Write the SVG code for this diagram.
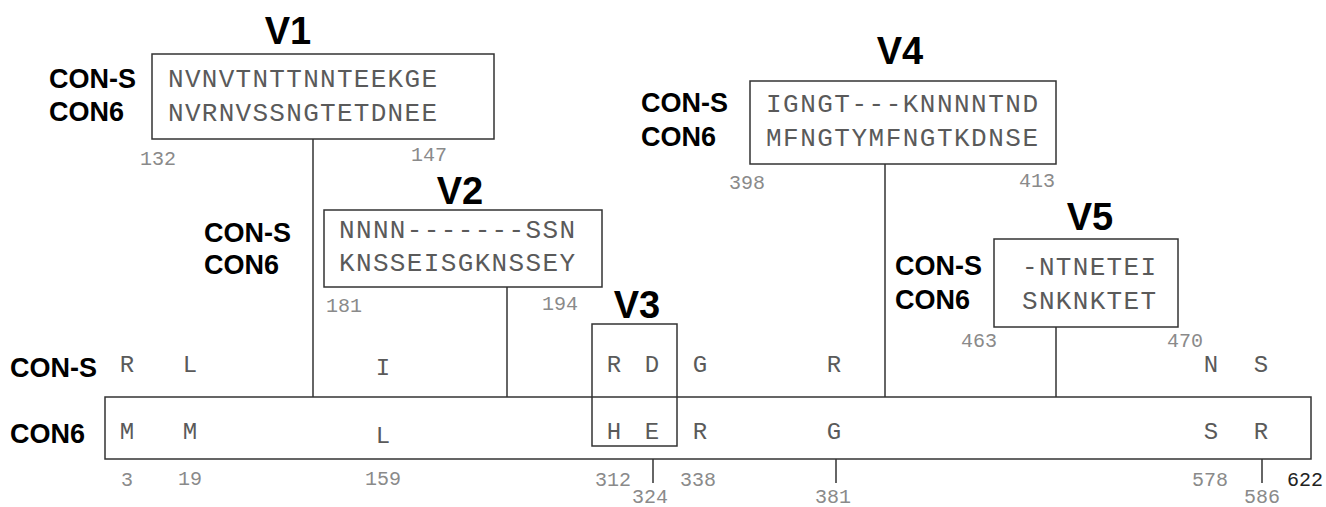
<svg xmlns="http://www.w3.org/2000/svg" width="1326" height="507" viewBox="0 0 1326 507">
<style>
.title{font-family:"Liberation Sans",Arial,sans-serif;font-weight:bold;font-size:38px;fill:#000;text-anchor:middle}
.lab{font-family:"Liberation Sans",Arial,sans-serif;font-weight:bold;font-size:27px;fill:#000}
.seq{font-family:"Liberation Mono","Courier New",monospace;font-size:26px;fill:#5a5a5a}
.res{font-family:"Liberation Mono","Courier New",monospace;font-size:24px;fill:#5a5a5a;text-anchor:middle}
.num{font-family:"Liberation Mono","Courier New",monospace;font-size:20px;fill:#8a8a8a;text-anchor:middle}
.box{fill:none;stroke:#333;stroke-width:1.5}
.ln{stroke:#333;stroke-width:1.5}
</style>
<rect width="1326" height="507" fill="#fff"/>
<g id="bar">
<rect class="box" x="105" y="397" width="1206" height="62"/>
<text class="lab" x="10" y="377">CON-S</text>
<text class="lab" x="10" y="443">CON6</text>
<text class="res" x="127" y="372">R</text>
<text class="res" x="190" y="372">L</text>
<text class="res" x="383" y="375">I</text>
<text class="res" x="700" y="372">G</text>
<text class="res" x="834" y="372">R</text>
<text class="res" x="1211" y="372">N</text>
<text class="res" x="1261" y="372">S</text>
<text class="res" x="127" y="439">M</text>
<text class="res" x="190" y="439">M</text>
<text class="res" x="383" y="443">L</text>
<text class="res" x="700" y="439">R</text>
<text class="res" x="834" y="439">G</text>
<text class="res" x="1211" y="439">S</text>
<text class="res" x="1261" y="439">R</text>
<text class="num" x="127" y="486">3</text>
<text class="num" x="190" y="485">19</text>
<text class="num" x="383" y="485">159</text>
<text class="num" x="613" y="486">312</text>
<text class="num" x="650" y="503">324</text>
<text class="num" x="698" y="486">338</text>
<text class="num" x="833" y="503">381</text>
<text class="num" x="1210" y="486">578</text>
<text class="num" x="1262" y="503">586</text>
<text class="num" x="1305" y="486" style="fill:#222">622</text>
</g>
<g id="V1">
<text class="title" x="288" y="44">V1</text>
<rect class="box" x="152" y="54" width="342" height="85"/>
<text class="lab" x="49" y="88">CON-S</text>
<text class="lab" x="49" y="121">CON6</text>
<text class="seq" x="168" y="87" textLength="269">NVNVTNTTNNTEEKGE</text>
<text class="seq" x="168" y="121" textLength="269">NVRNVSSNGTETDNEE</text>
<text class="num" x="158" y="165">132</text>
<text class="num" x="429" y="161">147</text>
</g>
<g id="V2">
<text class="title" x="460" y="204">V2</text>
<rect class="box" x="324" y="210" width="278" height="77"/>
<text class="lab" x="204" y="242">CON-S</text>
<text class="lab" x="204" y="274">CON6</text>
<text class="seq" x="339" y="238" textLength="236">NNNN-------SSN</text>
<text class="seq" x="339" y="271" textLength="236">KNSSEISGKNSSEY</text>
<text class="num" x="344" y="312">181</text>
<text class="num" x="560" y="310">194</text>
</g>
<g id="V3">
<text class="title" x="637" y="318">V3</text>
<rect class="box" x="592" y="324" width="85" height="122"/>
<text class="res" x="614" y="372">R</text>
<text class="res" x="652" y="372">D</text>
<text class="res" x="614" y="439">H</text>
<text class="res" x="652" y="439">E</text>
</g>
<g id="V4">
<text class="title" x="900" y="64">V4</text>
<rect class="box" x="750" y="81" width="306" height="83"/>
<text class="lab" x="641" y="112">CON-S</text>
<text class="lab" x="641" y="146">CON6</text>
<text class="seq" x="766" y="112" textLength="272">IGNGT---KNNNNTND</text>
<text class="seq" x="766" y="146" textLength="272">MFNGTYMFNGTKDNSE</text>
<text class="num" x="747" y="189">398</text>
<text class="num" x="1037" y="187">413</text>
</g>
<g id="V5">
<text class="title" x="1090" y="230">V5</text>
<rect class="box" x="994" y="239" width="184" height="88"/>
<text class="lab" x="895" y="275">CON-S</text>
<text class="lab" x="895" y="309">CON6</text>
<text class="seq" x="1022" y="275" textLength="134">-NTNETEI</text>
<text class="seq" x="1022" y="309" textLength="134">SNKNKTET</text>
<text class="num" x="979" y="347">463</text>
<text class="num" x="1185" y="347">470</text>
</g>
<g id="connectors">
<line class="ln" x1="313" y1="139" x2="313" y2="397"/>
<line class="ln" x1="507" y1="287" x2="507" y2="397"/>
<line class="ln" x1="885" y1="164" x2="885" y2="397"/>
<line class="ln" x1="1056" y1="327" x2="1056" y2="397"/>
<line class="ln" x1="653" y1="459" x2="653" y2="483"/>
<line class="ln" x1="836" y1="459" x2="836" y2="483"/>
<line class="ln" x1="1262" y1="459" x2="1262" y2="483"/>
</g>
</svg>
